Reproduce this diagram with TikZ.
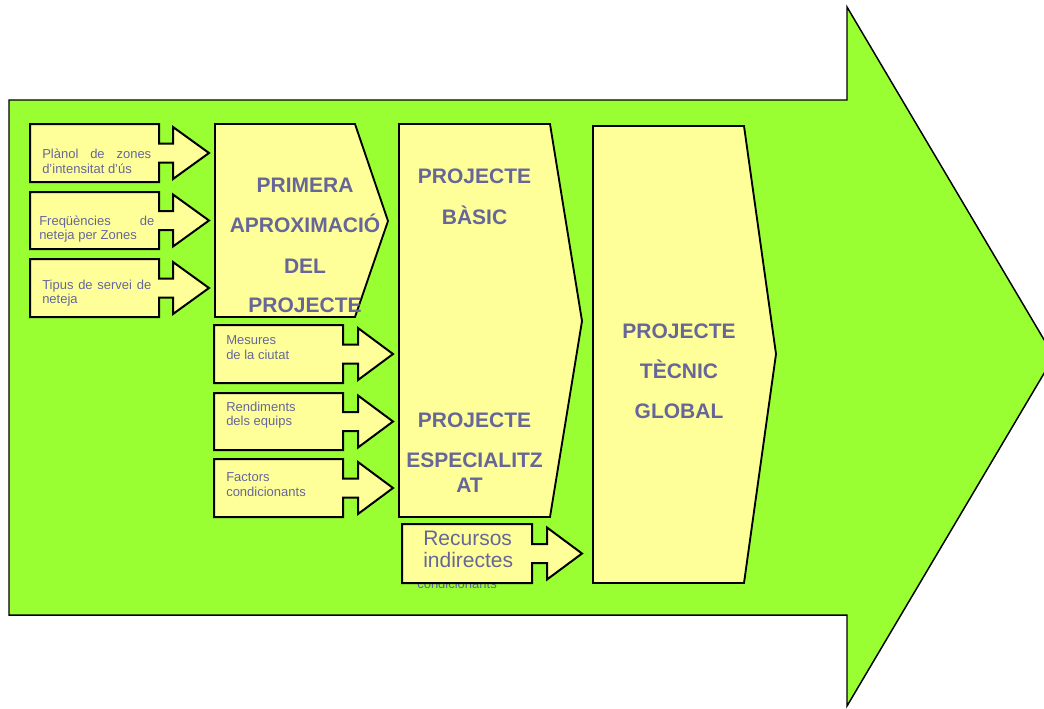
\documentclass[tikz,border=0pt]{standalone}
\usepackage{fontspec}
\setmainfont{Liberation Sans}
\definecolor{shaftgreen}{HTML}{99FF33}
\definecolor{paleyellow}{HTML}{FFFF99}
\definecolor{slatetext}{HTML}{666699}
\newlength\pxu
\setlength\pxu{0.75pt}
\tikzset{
  bigarrow/.style={fill=shaftgreen, draw=black, line width=1.1pt, line join=miter},
  stagebox/.style={fill=paleyellow, draw=black, line width=1.4pt, line join=miter},
  callout/.style={fill=paleyellow, draw=black, line width=1.5pt, line join=miter},
  note/.style={inner sep=0pt, text=slatetext, font=\fontsize{9.75}{11.25}\selectfont, anchor=base west},
  bignote/.style={note, font=\fontsize{15.75}{18}\selectfont},
  title/.style={inner sep=0pt, text=slatetext, font=\fontsize{15.75}{18}\selectfont\bfseries, anchor=base},
}
% input arrow: box (left, top, bottom, box right), shaft end, tip
\newcommand\inarrow[6]{%
  \pgfmathsetmacro\ymid{(#2+#3)/2}
  \draw[callout] (#1,#2) -- (#4,#2) -- (#4,\ymid-9.5) -- (#5,\ymid-9.5) -- (#5,\ymid-26)
    -- (#6,\ymid) -- (#5,\ymid+26) -- (#5,\ymid+9.5) -- (#4,\ymid+9.5) -- (#4,#3) -- (#1,#3) -- cycle;}
\begin{document}
\begin{tikzpicture}[x=0.75pt,y=-0.75pt]
  \useasboundingbox (0,0) rectangle (1044,708);
  \fill[white] (0,0) rectangle (1044,708);

  % large process arrow
  \draw[bigarrow] (9,100) -- (847,100) -- (847,7) -- (1054,356.5) -- (847,706) -- (847,615) -- (9,615) -- cycle;

  % stages
  \draw[stagebox] (215,124) -- (355,124) -- (388,221) -- (355,317) -- (215,317) -- cycle;
  \draw[stagebox] (399,124) -- (550,124) -- (582,321) -- (550,517) -- (399,517) -- cycle;
  \draw[stagebox] (593,126) -- (744,126) -- (776,354) -- (744,583) -- (593,583) -- cycle;

  % inputs to the first approximation
  \inarrow{30}{124}{182}{159}{173}{209}
  \inarrow{30}{192}{249}{159}{173}{209}
  \inarrow{30}{259}{317}{159}{173}{209}

  % inputs to the basic / specialised project
  \inarrow{214}{325}{383}{343}{358}{393}
  \inarrow{214}{393}{450}{343}{358}{393}
  \inarrow{214}{459}{517}{343}{358}{393}

  % indirect resources
  \node[note] (hid) at (417,588) {condicionants};
  \inarrow{402}{524}{583}{532}{547}{582}

  % labels of the input arrows
  \node[note] (t1a) at (42,158.5) {\makebox[109\pxu][s]{Plànol de zones}};
  \node[note] (t1b) at (42,173.5) {d’intensitat d’ús};
  \node[note] (t2a) at (39,225) {\makebox[115\pxu][s]{Freqüències de}};
  \node[note] (t2b) at (39,239.5) {neteja per Zones};
  \node[note] (t3a) at (42,289) {\makebox[109\pxu][s]{Tipus de servei de}};
  \node[note] (t3b) at (42,303.5) {neteja};

  \node[note] (m1a) at (226,344) {Mesures};
  \node[note] (m1b) at (226,359) {de la ciutat};
  \node[note] (m2a) at (226,411) {Rendiments};
  \node[note] (m2b) at (226,425.7) {dels equips};
  \node[note] (m3a) at (226,481.7) {Factors};
  \node[note] (m3b) at (226,496.7) {condicionants};

  \node[bignote] (r1) at (423,545) {Recursos};
  \node[bignote] (r2) at (423,567.7) {indirectes};

  % stage titles
  \node[title] (p1) at (305,192.3) {PRIMERA};
  \node[title] (p2) at (305,232.3) {APROXIMACIÓ};
  \node[title] (p3) at (305,273.3) {DEL};
  \node[title] (p4) at (305,312.7) {PROJECTE};

  \node[title] (b1) at (474.5,183.3) {PROJECTE};
  \node[title] (b2) at (474.5,224.3) {BÀSIC};
  \node[title] (e1) at (474.5,427.7) {PROJECTE};
  \node[title] (e2) at (474.5,467.3) {ESPECIALITZ};
  \node[title] (e3) at (469.5,492.7) {AT};

  \node[title] (g1) at (679,338.3) {PROJECTE};
  \node[title] (g2) at (679,378.3) {TÈCNIC};
  \node[title] (g3) at (679,418.3) {GLOBAL};
\end{tikzpicture}
\end{document}
